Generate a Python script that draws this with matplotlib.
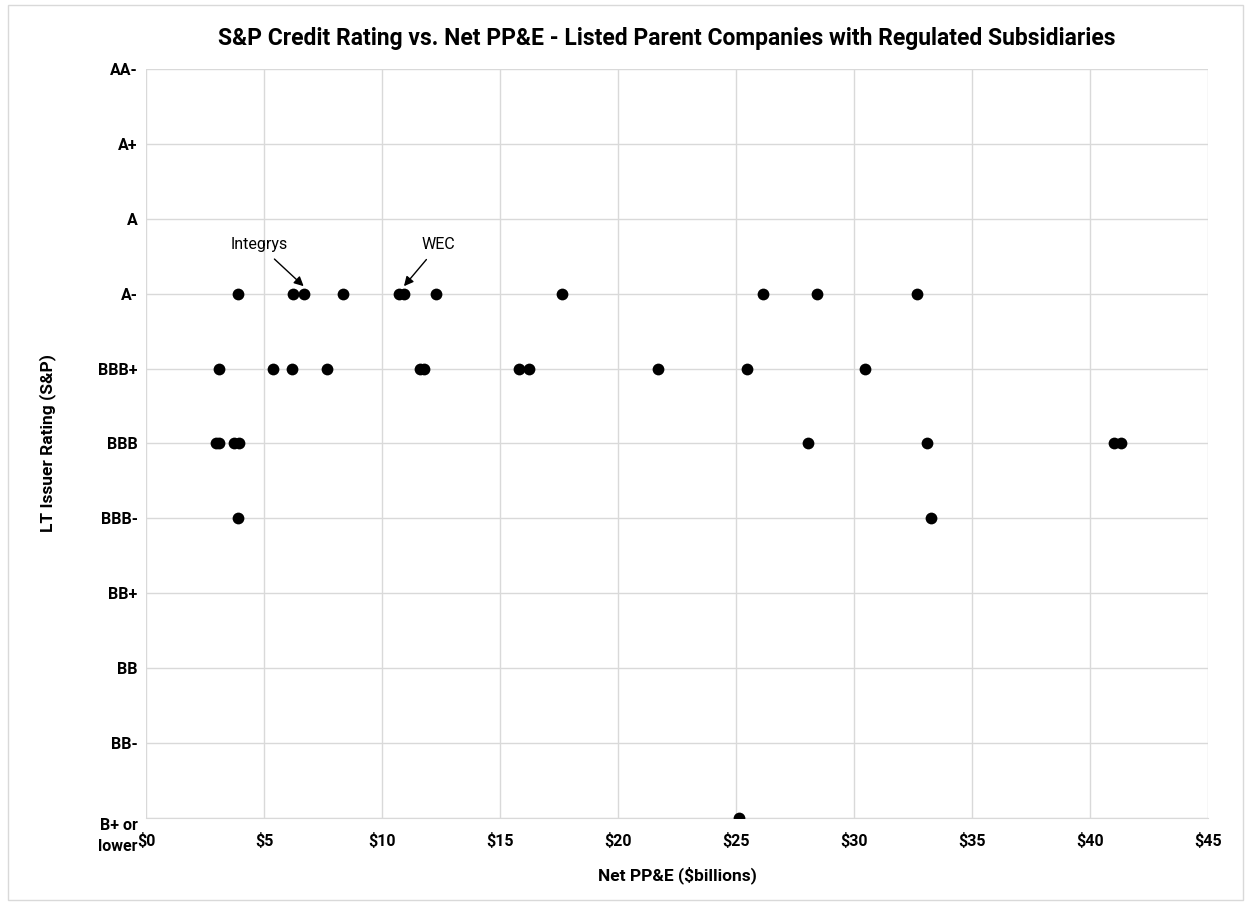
import matplotlib.pyplot as plt
from matplotlib.patches import Rectangle
from matplotlib.transforms import ScaledTranslation

plt.rcParams['font.family'] = ['Roboto', 'DejaVu Sans']

ratings = ['B+ or\nlower', 'BB-', 'BB', 'BB+', 'BBB-', 'BBB', 'BBB+', 'A-', 'A', 'A+', 'AA-']

ppe_a_minus = [3.91, 6.24, 6.68, 8.36, 10.73, 10.93, 12.29, 17.61, 26.14, 28.44, 32.66]
ppe_bbb_plus = [3.11, 5.37, 6.20, 7.67, 11.6, 11.8, 15.82, 16.24, 21.68, 25.48, 30.48]
ppe_bbb = [2.95, 3.10, 3.73, 3.95, 28.05, 33.09, 41.0, 41.3]
ppe_bbb_minus = [3.88, 33.26]
ppe_b_lower = [25.13]

groups = [
    ('A-', ppe_a_minus),
    ('BBB+', ppe_bbb_plus),
    ('BBB', ppe_bbb),
    ('BBB-', ppe_bbb_minus),
    ('B+ or\nlower', ppe_b_lower),
]

xticks = list(range(0, 50, 5))
xticklabels = ['$' + str(v) for v in xticks]

fig = plt.figure(figsize=(12.5, 9.05), dpi=100)
ax = fig.add_axes([0.1168, 0.0961, 0.8496, 0.8277])

for name, xs in groups:
    level = ratings.index(name)
    ax.scatter(xs, [level] * len(xs), s=72, color='black', zorder=3, linewidths=0)

ax.set_xlim(0, 45)
ax.set_ylim(0, 10)
ax.set_xticks(xticks)
ax.set_xticklabels(xticklabels, fontsize=11.5, fontweight='bold')
ax.set_yticks(range(len(ratings)))
ax.set_yticklabels(ratings, fontsize=11.5, fontweight='bold', linespacing=1.5)
ax.tick_params(length=0, pad=6)
ax.tick_params(axis='x', pad=11)
ax.grid(True, color='#d9d9d9', linewidth=1)
ax.set_axisbelow(True)
for s in ['top', 'right', 'left']:
    ax.spines[s].set_visible(False)
ax.spines['bottom'].set_color('#d9d9d9')

# push the two-line bottom label down like the original
lab = ax.get_yticklabels()[0]
lab.set_transform(lab.get_transform() + ScaledTranslation(0, -10 / 72, fig.dpi_scale_trans))

ax.set_xlabel('Net PP&E ($billions)', fontsize=12.5, fontweight='bold', labelpad=12)
ax.set_ylabel('LT Issuer Rating (S&P)', fontsize=12.5, fontweight='bold', labelpad=30)
fig.text(0.533, 0.958, 'S&P Credit Rating vs. Net PP&E - Listed Parent Companies with Regulated Subsidiaries',
         ha='center', va='center', fontsize=16.5, fontweight='bold')

a_minus = ratings.index('A-')
ax.annotate('Integrys', xy=(6.68, a_minus + 0.1), xytext=(4.8, a_minus + 0.65),
            fontsize=11.5, ha='center', va='center',
            arrowprops=dict(arrowstyle='-|>', color='black', lw=1, mutation_scale=14, shrinkA=4, shrinkB=0))
ax.annotate('WEC', xy=(10.93, a_minus + 0.1), xytext=(12.4, a_minus + 0.65),
            fontsize=11.5, ha='center', va='center',
            arrowprops=dict(arrowstyle='-|>', color='black', lw=1, mutation_scale=14, shrinkA=4, shrinkB=0))

fig.patches.append(Rectangle((0.006, 0.006), 0.988, 0.988, transform=fig.transFigure,
                             fill=False, edgecolor='#d9d9d9', linewidth=1))

fig.savefig('out.png', dpi=100)
